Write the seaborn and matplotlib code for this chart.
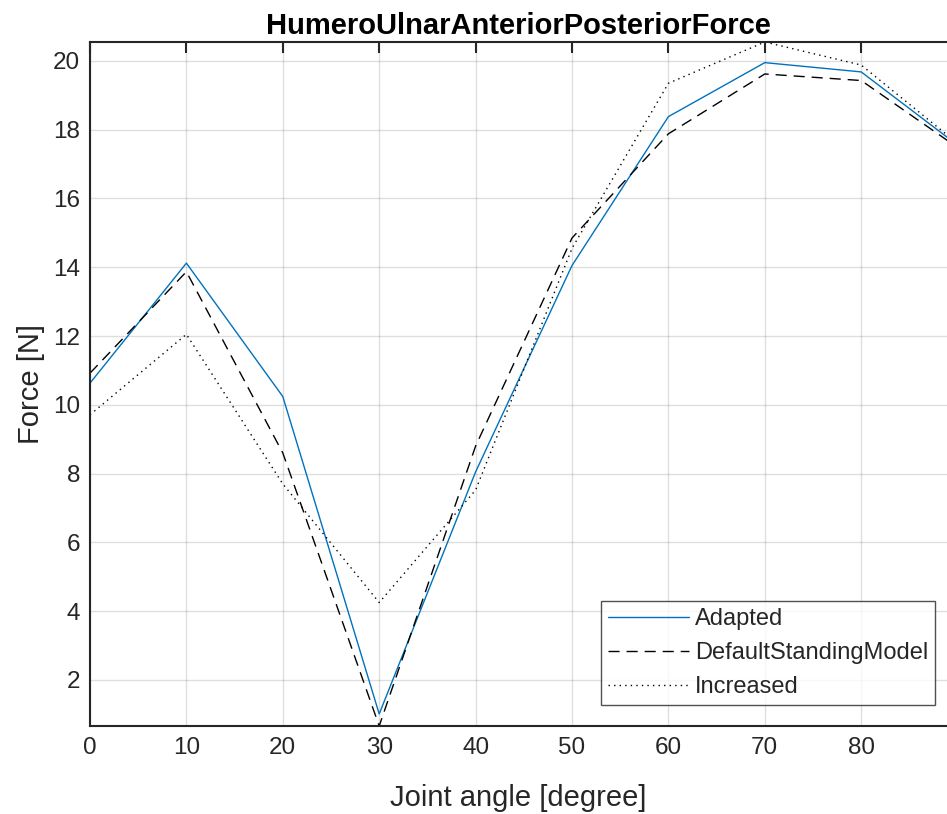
import matplotlib
matplotlib.use("Agg")
import matplotlib.pyplot as plt
import seaborn as sns
import pandas as pd
import numpy as np
from matplotlib.lines import Line2D

angles = [0, 10, 20, 30, 40, 50, 60, 70, 80, 90]
adapted = [10.63, 14.12, 10.24, 1.01, 8.05, 14.05, 18.38, 19.95, 19.68, 17.55]
default_standing = [10.92, 13.87, 8.6, 0.66, 8.8, 14.85, 17.88, 19.62, 19.43, 17.48]
increased = [9.71, 12.05, 7.7, 4.25, 7.52, 14.55, 19.35, 20.55, 19.88, 17.6]

series_names = ["Adapted", "DefaultStandingModel", "Increased"]
title = "HumeroUlnarAnteriorPosteriorForce"
xlabel = "Joint angle [degree]"
ylabel = "Force [N]"
xticks = [0, 10, 20, 30, 40, 50, 60, 70, 80]
yticks = [2, 4, 6, 8, 10, 12, 14, 16, 18, 20]

df = pd.DataFrame({
    "angle": angles * 3,
    "force": adapted + default_standing + increased,
    "series": sum([[n] * len(angles) for n in series_names], []),
})

sns.set_theme(style="white")
plt.rcParams['font.family'] = ['Liberation Sans', 'DejaVu Sans']

fig = plt.figure(figsize=(9.47, 8.14), dpi=100)
ax = fig.add_axes([90 / 947, 88 / 814, 1 - 90 / 947, (726 - 42) / 814])

palette = {"Adapted": "#0072BD", "DefaultStandingModel": "#000000", "Increased": "#000000"}
dashes = {"Adapted": "", "DefaultStandingModel": (8, 5), "Increased": (1, 3)}
sns.lineplot(data=df, x="angle", y="force", hue="series", style="series",
             palette=palette, dashes=dashes, linewidth=1.0, ax=ax, legend=False)

ax.set_xlim(0, 88.9)
ax.set_ylim(min(default_standing), max(increased))
ax.set_xticks(xticks)
ax.set_yticks(yticks)
ax.grid(True, color="#262626", alpha=0.15, linewidth=1.0)
ax.set_axisbelow(True)

axcol = "#262626"
for s in ["left", "bottom", "top"]:
    ax.spines[s].set_visible(True)
    ax.spines[s].set_color(axcol)
    ax.spines[s].set_linewidth(1.5)
ax.spines["right"].set_visible(False)
ax.tick_params(axis="both", which="both", direction="in", length=8, width=1.5,
               colors=axcol, labelsize=17.5, top=True, right=False, pad=7)
ax.tick_params(axis="x", pad=8)

ax.set_title(title, fontsize=21, fontweight="bold", color="black", pad=6)
ax.set_xlabel(xlabel, fontsize=21, color=axcol, labelpad=18)
ax.set_ylabel(ylabel, fontsize=21, color=axcol, labelpad=6)

handles = [
    Line2D([], [], color="#0072BD", linewidth=1.0),
    Line2D([], [], color="black", linewidth=1.0, dashes=(8, 5)),
    Line2D([], [], color="black", linewidth=1.0, dashes=(1, 3)),
]
leg = ax.legend(handles, series_names, loc="lower right", fontsize=17,
                frameon=True, fancybox=False, edgecolor="#262626",
                handlelength=3.4, handletextpad=0.25, borderpad=0.3,
                labelspacing=0.5, borderaxespad=0,
                bbox_to_anchor=((935 - 90) / 857, (726 - 705) / 684))
leg.get_frame().set_linewidth(1.0)

fig.savefig("out.png", dpi=100)
